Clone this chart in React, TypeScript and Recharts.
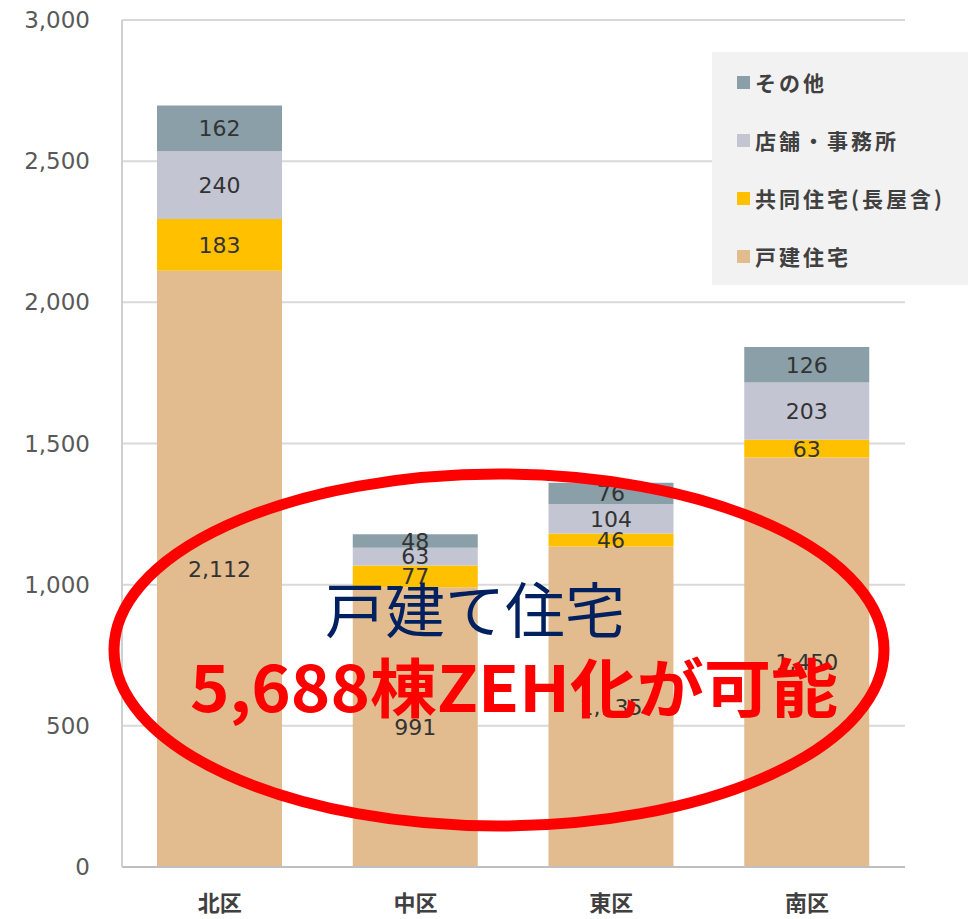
import { BarChart, Bar, XAxis, YAxis, CartesianGrid, LabelList } from "recharts"

const wards = ["北区", "中区", "東区", "南区"]
const detached = [2112, 991, 1135, 1450]
const apartments = [183, 77, 46, 63]
const shops = [240, 63, 104, 203]
const others = [162, 48, 76, 126]
const yTicks = [0, 500, 1000, 1500, 2000, 2500, 3000]

const series = [
  { key: "detached", name: "戸建住宅", color: "#E2BC8F", values: detached },
  { key: "apartments", name: "共同住宅(長屋含)", color: "#FFC000", values: apartments },
  { key: "shops", name: "店舗・事務所", color: "#C3C5D3", values: shops },
  { key: "others", name: "その他", color: "#8A9FA8", values: others },
]

const data = wards.map((ward, i) => {
  const row: any = { ward }
  series.forEach((s) => {
    row[s.key] = s.values[i]
  })
  return row
})

const numFont = "'DejaVu Sans', Verdana, sans-serif"
const jpFont = "'Noto Sans CJK JP', sans-serif"

// legend box sits on top of the plot, top-right
function LegendBox() {
  return (
    <div
      style={{
        position: "absolute",
        left: 712,
        top: 52,
        width: 256,
        height: 233,
        background: "#F2F2F2",
      }}
    >
      {[...series].reverse().map((s, i) => (
        <div
          key={s.key}
          style={{
            position: "absolute",
            left: 25,
            top: 30 + i * 58 - 14,
            height: 28,
            display: "flex",
            alignItems: "center",
            fontFamily: jpFont,
            fontWeight: 700,
            fontSize: 21,
            letterSpacing: 3,
            color: "#404040",
            whiteSpace: "nowrap",
          }}
        >
          <span style={{ width: 13, height: 13, background: s.color, marginRight: 5, display: "inline-block" }} />
          {s.name}
        </div>
      ))}
    </div>
  )
}

export default function App() {
  return (
    <div style={{ position: "absolute", left: 0, top: 0, width: 974, height: 919, background: "#fff" }}>
      <BarChart
        width={974}
        height={919}
        data={data}
        margin={{ top: 20, right: 69, bottom: 0, left: 0 }}
        barSize={125}
      >
        <CartesianGrid vertical={false} stroke="#D9D9D9" strokeWidth={2} />
        <XAxis
          dataKey="ward"
          height={52}
          tickLine={false}
          tickSize={0}
          tickMargin={28}
          axisLine={{ stroke: "#BFBFBF", strokeWidth: 2 }}
          tick={{ fill: "#404040", fontSize: 22, fontFamily: jpFont, fontWeight: 700 }}
        />
        <YAxis
          width={122}
          domain={[0, 3000]}
          ticks={yTicks}
          tickLine={false}
          tickSize={0}
          tickMargin={32}
          axisLine={{ stroke: "#D0D0D0", strokeWidth: 2 }}
          tickFormatter={(v) => v.toLocaleString("en-US")}
          tick={{ fill: "#595959", fontSize: 23, fontFamily: numFont }}
        />
        {series.map((s) => (
          <Bar key={s.key} dataKey={s.key} name={s.name} stackId="a" fill={s.color} isAnimationActive={false}>
            <LabelList
              dataKey={s.key}
              position="center"
              formatter={(v: any) => Number(v).toLocaleString("en-US")}
              style={{ fill: "#333333", fontSize: 22, fontFamily: numFont }}
            />
          </Bar>
        ))}
      </BarChart>
      <LegendBox />
      <svg width={974} height={919} style={{ position: "absolute", left: 0, top: 0, pointerEvents: "none" }}>
        <ellipse cx={499} cy={650} rx={385} ry={176} fill="none" stroke="#FF0000" strokeWidth={11} />
        <text x={475} y={633} textAnchor="middle" fill="#002060" fontSize={60} fontFamily={jpFont} fontWeight={400}>
          戸建て住宅
        </text>
        <text
          x={514}
          y={712}
          textAnchor="middle"
          fill="#FF0000"
          fontSize={64}
          fontFamily={jpFont}
          fontWeight={700}
          textLength={648}
          lengthAdjust="spacingAndGlyphs"
        >
          5,688棟ZEH化が可能
        </text>
      </svg>
    </div>
  )
}
